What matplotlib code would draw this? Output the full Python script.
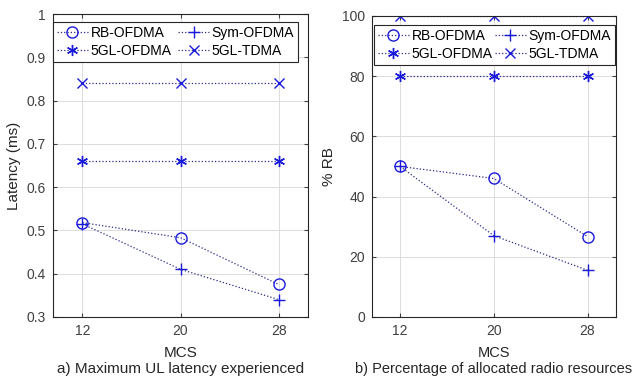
import matplotlib
matplotlib.use("Agg")
import matplotlib.pyplot as plt

plt.rcParams['font.family'] = ['Liberation Sans', 'DejaVu Sans']

mcs = [12, 20, 28]
series_names = ["RB-OFDMA", "Sym-OFDMA", "5GL-OFDMA", "5GL-TDMA"]

# a) latency (ms)
lat_rb = [0.518, 0.483, 0.375]
lat_sym = [0.515, 0.41, 0.34]
lat_5gl_ofdma = [0.66, 0.66, 0.66]
lat_5gl_tdma = [0.84, 0.84, 0.84]

# b) % RB
rb_rb = [50, 46, 26.7]
rb_sym = [50, 27, 15.5]
rb_5gl_ofdma = [80, 80, 80]
rb_5gl_tdma = [100, 100, 100]

# MATLAB-style asterisk: 6-armed
markers = ['o', '+', (6, 2, 0), 'x']
msizes = [8, 8, 8, 6.5]
blue = '#1a1adb'
line_col = '#2a2a8a'
text_col = '#262626'
tick_col = '#404040'

fig = plt.figure(figsize=(6.38, 3.8), dpi=100)
ax1 = fig.add_axes([0.083, 0.166, 0.400, 0.797])
ax2 = fig.add_axes([0.583, 0.166, 0.382, 0.792])


def draw(ax, data, ylim, yticks, ylabel, caption, anchor, cap_size, colsp):
    handles = []
    for vals, m, ms, name in zip(data, markers, msizes, series_names):
        h, = ax.plot(mcs, vals, linestyle=':', color=line_col, linewidth=0.9,
                     marker=m, markersize=ms,
                     markerfacecolor='none', markeredgecolor=blue,
                     markeredgewidth=1.0, label=name)
        handles.append(h)
    ax.set_xlim(9.6, 30.4)
    ax.set_ylim(*ylim)
    ax.set_xticks(mcs)
    ax.set_yticks(yticks)
    ax.grid(True, color='#dcdcdc', linewidth=0.7)
    ax.set_axisbelow(True)
    ax.tick_params(direction='in', length=3, labelsize=10, colors=tick_col,
                   top=True, right=True, pad=5)
    for s in ax.spines.values():
        s.set_color('#262626')
        s.set_linewidth(0.8)
    ax.set_ylabel(ylabel, fontsize=11, color=text_col)
    ax.set_xlabel("MCS\n" + caption, fontsize=cap_size, color=text_col,
                  linespacing=1.15, labelpad=6)
    # row-major order like MATLAB legend with 2 columns
    order = [0, 2, 1, 3]
    leg = ax.legend([handles[i] for i in order],
                    [series_names[i] for i in order],
                    ncol=2, loc='upper left', bbox_to_anchor=anchor,
                    fontsize=10, frameon=True, fancybox=False,
                    edgecolor='#262626', framealpha=1, borderpad=0.3,
                    handlelength=2.2, handletextpad=0.2, columnspacing=colsp,
                    labelspacing=0.3, borderaxespad=0.0)
    leg.get_frame().set_linewidth(0.8)
    return leg


draw(ax1, [lat_rb, lat_sym, lat_5gl_ofdma, lat_5gl_tdma], (0.3, 1.0),
     [0.3, 0.4, 0.5, 0.6, 0.7, 0.8, 0.9, 1.0], "Latency (ms)",
     "a) Maximum UL latency experienced", (0.0, 0.975), 11, 0.5)
ax1.set_yticklabels(["0.3", "0.4", "0.5", "0.6", "0.7", "0.8", "0.9", "1"])
draw(ax2, [rb_rb, rb_sym, rb_5gl_ofdma, rb_5gl_tdma], (0, 100),
     [0, 20, 40, 60, 80, 100], "% RB",
     "b) Percentage of allocated radio resources", (0.008, 0.97), 10.5, 0.2)

fig.savefig("out.png", dpi=100)
